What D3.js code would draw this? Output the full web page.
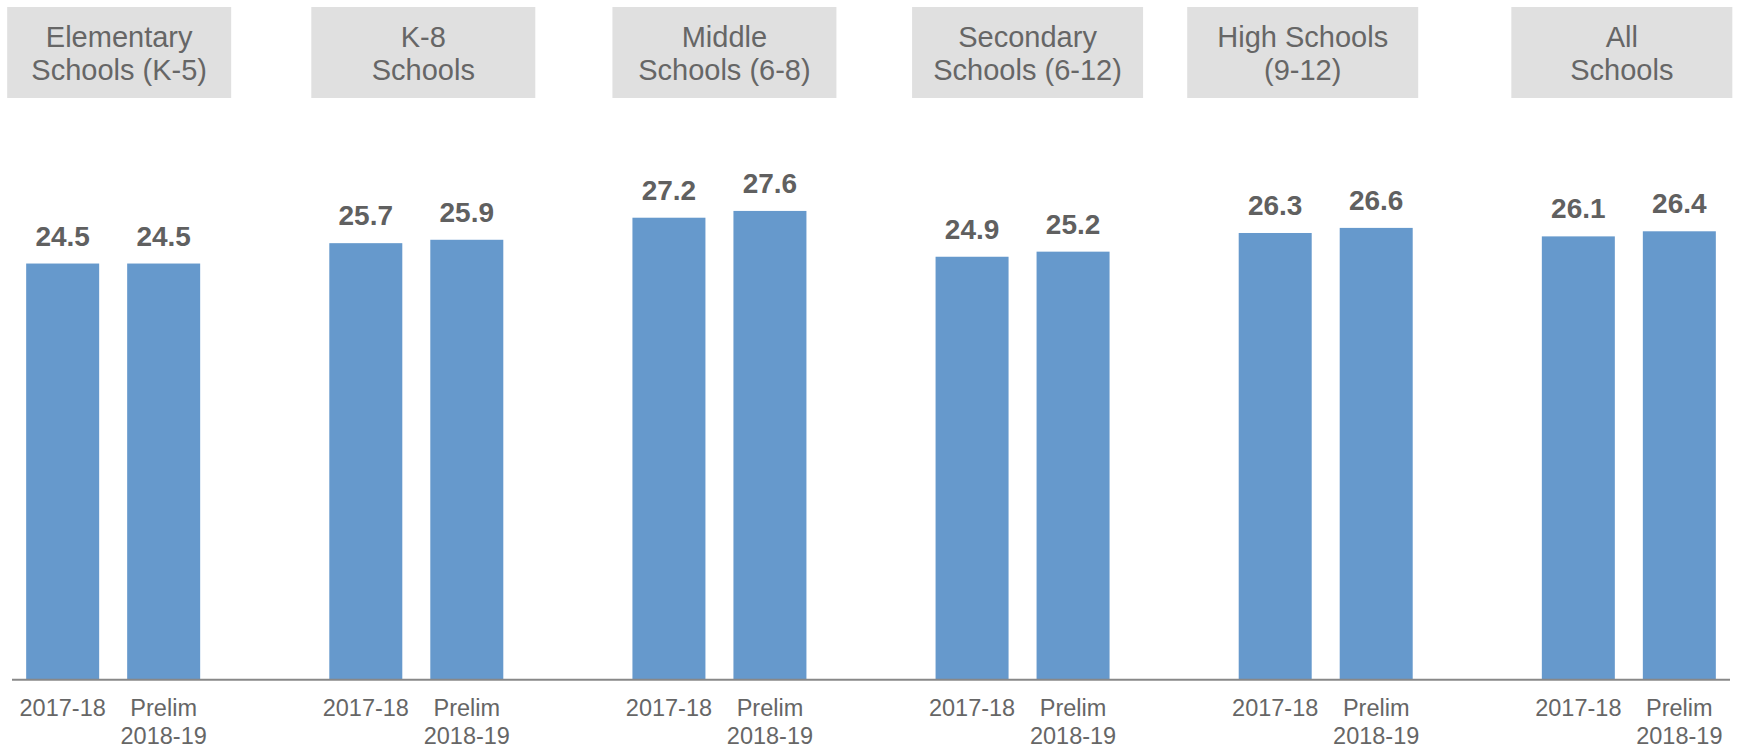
<!DOCTYPE html>
<html>
<head>
<meta charset="utf-8">
<script src="https://cdn.jsdelivr.net/npm/d3@7"></script>
<style>
  body { margin: 0; background: #fff; }
  svg { display: block; font-family: "Liberation Sans", Arial, sans-serif; }
</style>
</head>
<body>
<div id="chart"></div>
<script>
// Data
const categories = ["Elementary Schools (K-5)", "K-8 Schools", "Middle Schools (6-8)",
    "Secondary Schools (6-12)", "High Schools (9-12)", "All Schools"];
const headerLines = [
    ["Elementary", "Schools (K-5)"],
    ["K-8", "Schools"],
    ["Middle", "Schools (6-8)"],
    ["Secondary", "Schools (6-12)"],
    ["High Schools", "(9-12)"],
    ["All", "Schools"]
];
const series = ["2017-18", "Prelim 2018-19"];
const seriesLabels = [["2017-18"], ["Prelim", "2018-19"]];
const values2017 = [24.5, 25.7, 27.2, 24.9, 26.3, 26.1];
const values2018 = [24.5, 25.9, 27.6, 25.2, 26.6, 26.4];

// layout of the header boxes (offset from group centre, width)
const headerShift = [6, 7, 5, 5, -23, -7];
const headerWidth = [224, 224, 224, 231, 231, 221];

const width = 1743, height = 747;
const baseline = 679.3;

const rows = categories.map((c, i) => ({
    category: c,
    values: [
        { key: series[0], value: values2017[i] },
        { key: series[1], value: values2018[i] }
    ]
}));

const svg = d3.select("#chart")
    .append("svg")
    .attr("width", width)
    .attr("height", height);

const x0 = d3.scaleBand()
    .domain(categories)
    .range([-38.4, 1780.4]);

const x1 = d3.scaleBand()
    .domain(series)
    .range([-101, 101])
    .paddingInner(28 / 101)
    .paddingOuter(14 / 101);

const y = d3.scaleLinear()
    .domain([0, 30])
    .range([baseline, baseline - 30 * 16.97]);

const center = (c) => x0(c) + x0.bandwidth() / 2;

// Header boxes
const header = svg.append("g")
    .selectAll("g")
    .data(categories)
    .enter()
    .append("g")
    .attr("transform", (d, i) => `translate(${center(d) + headerShift[i]},0)`);

header.append("rect")
    .attr("x", (d, i) => -headerWidth[i] / 2)
    .attr("y", 7)
    .attr("width", (d, i) => headerWidth[i])
    .attr("height", 91)
    .attr("fill", "#e0e0e0");

header.append("text")
    .attr("text-anchor", "middle")
    .style("font-size", "29px")
    .attr("fill", "#666")
    .selectAll("tspan")
    .data((d, i) => headerLines[i])
    .enter()
    .append("tspan")
    .attr("x", 0)
    .attr("y", (d, j) => 47 + j * 32.5)
    .text(d => d);

// Bars
const group = svg.append("g")
    .selectAll("g")
    .data(rows)
    .enter()
    .append("g")
    .attr("transform", d => `translate(${center(d.category)},0)`);

group.selectAll("rect")
    .data(d => d.values)
    .enter()
    .append("rect")
    .attr("x", d => x1(d.key))
    .attr("y", d => y(d.value))
    .attr("width", x1.bandwidth())
    .attr("height", d => y(0) - y(d.value))
    .attr("fill", "#6699cc");

// Value labels
group.selectAll("text.value")
    .data(d => d.values)
    .enter()
    .append("text")
    .attr("class", "value")
    .attr("x", d => x1(d.key) + x1.bandwidth() / 2)
    .attr("y", d => y(d.value) - 18)
    .attr("text-anchor", "middle")
    .style("font-size", "28px")
    .style("font-weight", "bold")
    .attr("fill", "#606060")
    .text(d => d3.format(".1f")(d.value));

// Category (series) tick labels
group.selectAll("text.tick")
    .data(series)
    .enter()
    .append("text")
    .attr("class", "tick")
    .attr("text-anchor", "middle")
    .style("font-size", "23.5px")
    .attr("fill", "#666")
    .each(function (s, i) {
        d3.select(this).selectAll("tspan")
            .data(seriesLabels[i])
            .enter()
            .append("tspan")
            .attr("x", x1(s) + x1.bandwidth() / 2)
            .attr("y", (d, j) => 716 + j * 27.5)
            .text(d => d);
    });

// Axis line
svg.append("line")
    .attr("x1", 12)
    .attr("x2", 1730)
    .attr("y1", y(0) + 0.5)
    .attr("y2", y(0) + 0.5)
    .attr("stroke", "#888")
    .attr("stroke-width", 2);
</script>
</body>
</html>
